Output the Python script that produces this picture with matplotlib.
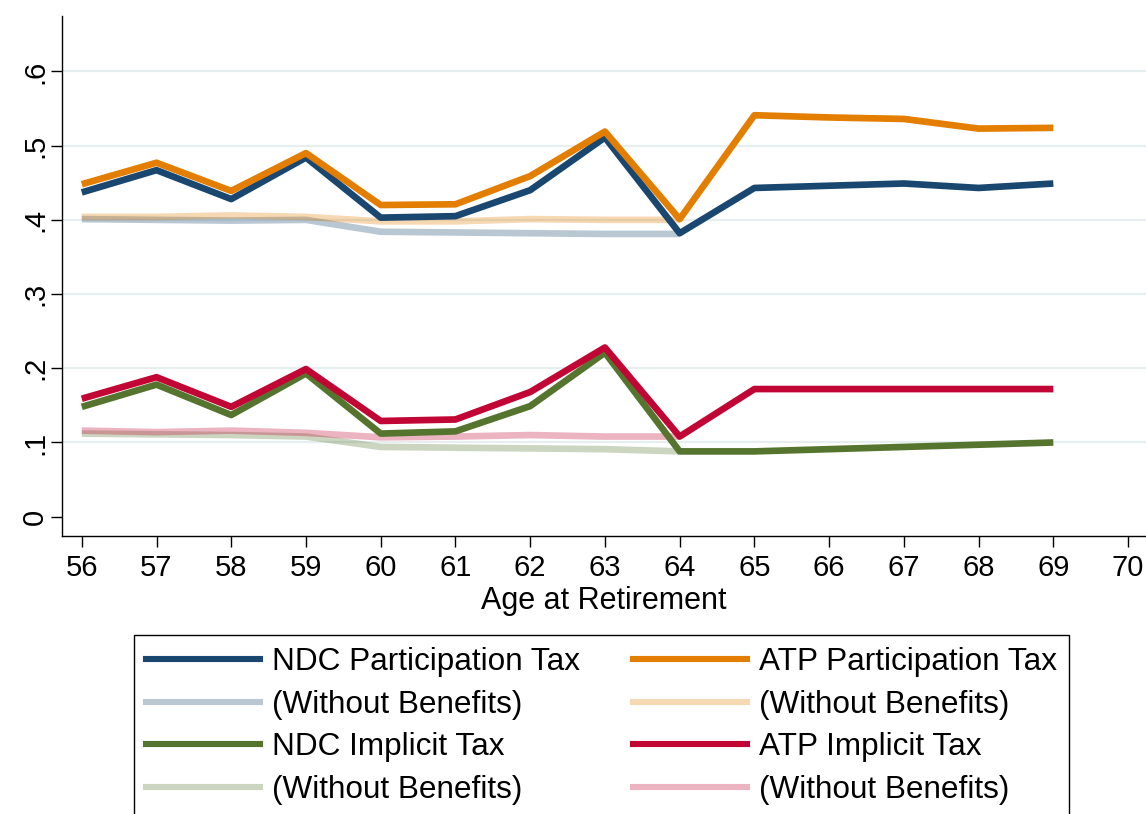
"""
plot.py
-------
Participation and implicit taxes by age at retirement, NDC vs ATP,
with and without benefits.
"""

import matplotlib
matplotlib.use("Agg")
import matplotlib.pyplot as plt
from matplotlib.lines import Line2D


# ── Data ─────────────────────────────────────────────────────────────────────

ages    = [56, 57, 58, 59, 60, 61, 62, 63, 64, 65, 66, 67, 68, 69]
ages_nb = [56, 57, 58, 59, 60, 61, 62, 63, 64]

ndc_part = [.437, .467, .428, .484, .403, .405, .440, .511, .382, .443, .446, .449, .443, .449]
atp_part = [.448, .477, .439, .490, .420, .421, .459, .519, .401, .541, .538, .536, .523, .524]
ndc_impl = [.148, .178, .137, .193, .112, .115, .149, .221, .088, .088, .091, .094, .097, .100]
atp_impl = [.159, .188, .148, .199, .129, .131, .168, .228, .108, .172, .172, .172, .172, .172]

ndc_part_nb = [.401, .400, .399, .400, .384, .383, .382, .381, .381]
atp_part_nb = [.404, .404, .406, .404, .398, .398, .401, .400, .400]
ndc_impl_nb = [.112, .111, .110, .108, .094, .093, .092, .091, .088]
atp_impl_nb = [.116, .114, .116, .113, .107, .108, .110, .108, .108]

x_ticks      = list(range(56, 71))
y_ticks      = [0, .1, .2, .3, .4, .5, .6]
y_ticklabels = ["0", ".1", ".2", ".3", ".4", ".5", ".6"]

labels_ndc = ["NDC Participation Tax", "(Without Benefits)", "NDC Implicit Tax", "(Without Benefits)"]
labels_atp = ["ATP Participation Tax", "(Without Benefits)", "ATP Implicit Tax", "(Without Benefits)"]

NAVY   = "#1a476f"
ORANGE = "#e37e00"
GREEN  = "#55752f"
RED    = "#c10534"
LIGHT  = 0.3   # opacity of the "without benefits" lines


# ── Figure ───────────────────────────────────────────────────────────────────

plt.rcParams["font.family"] = ["Liberation Sans", "DejaVu Sans"]

fig = plt.figure(figsize=(11.46, 8.14), dpi=100)
ax = fig.add_axes([0.0544, 0.3419, 0.9456, 0.6387])

for v in y_ticks[1:]:
    ax.axhline(v, color="#e6eef0", linewidth=1.6, zorder=1)

lw = 4.8
ax.plot(ages_nb, ndc_part_nb, color=NAVY,   alpha=LIGHT, lw=lw, zorder=2, solid_capstyle="butt")
ax.plot(ages_nb, atp_part_nb, color=ORANGE, alpha=LIGHT, lw=lw, zorder=2, solid_capstyle="butt")
ax.plot(ages_nb, ndc_impl_nb, color=GREEN,  alpha=LIGHT, lw=lw, zorder=2, solid_capstyle="butt")
ax.plot(ages_nb, atp_impl_nb, color=RED,    alpha=LIGHT, lw=lw, zorder=2, solid_capstyle="butt")

ax.plot(ages, ndc_part, color=NAVY,   lw=lw, zorder=3, solid_capstyle="butt")
ax.plot(ages, ndc_impl, color=GREEN,  lw=lw, zorder=3, solid_capstyle="butt")
ax.plot(ages, atp_part, color=ORANGE, lw=lw, zorder=4, solid_capstyle="butt")
ax.plot(ages, atp_impl, color=RED,    lw=lw, zorder=4, solid_capstyle="butt")

ax.set_xlim(55.74, 70.24)
ax.set_ylim(-0.0256, 0.675)

ax.set_xticks(x_ticks)
ax.set_yticks(y_ticks)
ax.set_yticklabels(y_ticklabels, rotation=90, va="center")
ax.tick_params(axis="both", direction="out", length=8, width=1, labelsize=21, color="black")
ax.tick_params(axis="x", pad=5.5)
ax.tick_params(axis="y", pad=1.5)

ax.set_xlabel("Age at Retirement", fontsize=22, labelpad=2.5)

for side in ["top", "right"]:
    ax.spines[side].set_visible(False)
for side in ["left", "bottom"]:
    ax.spines[side].set_linewidth(1.0)
    ax.spines[side].set_color("black")


# ── Legend (column-wise so rows pair NDC / ATP) ──────────────────────────────

hlw = 4.4
handles = [
    Line2D([], [], color=NAVY,   lw=hlw),
    Line2D([], [], color=NAVY,   lw=hlw, alpha=LIGHT),
    Line2D([], [], color=GREEN,  lw=hlw),
    Line2D([], [], color=GREEN,  lw=hlw, alpha=LIGHT),
    Line2D([], [], color=ORANGE, lw=hlw),
    Line2D([], [], color=ORANGE, lw=hlw, alpha=LIGHT),
    Line2D([], [], color=RED,    lw=hlw),
    Line2D([], [], color=RED,    lw=hlw, alpha=LIGHT),
]

leg = fig.legend(
    handles, labels_ndc + labels_atp,
    loc            = "upper left",
    bbox_to_anchor = (134 / 1146, 1 - 635 / 814),
    bbox_transform = fig.transFigure,
    ncol           = 2,
    fontsize       = 22.7,
    frameon        = True,
    fancybox       = False,
    edgecolor      = "black",
    borderpad      = 0.38,
    borderaxespad  = 0,
    handlelength   = 3.62,
    handletextpad  = 0.38,
    columnspacing  = 1.68,
    labelspacing   = 0.40,
)
leg.get_frame().set_linewidth(1.0)
leg.get_frame().set_alpha(None)

fig.savefig("out.png", dpi=100, facecolor="white")
print("[OK] saved -> out.png", flush=True)
